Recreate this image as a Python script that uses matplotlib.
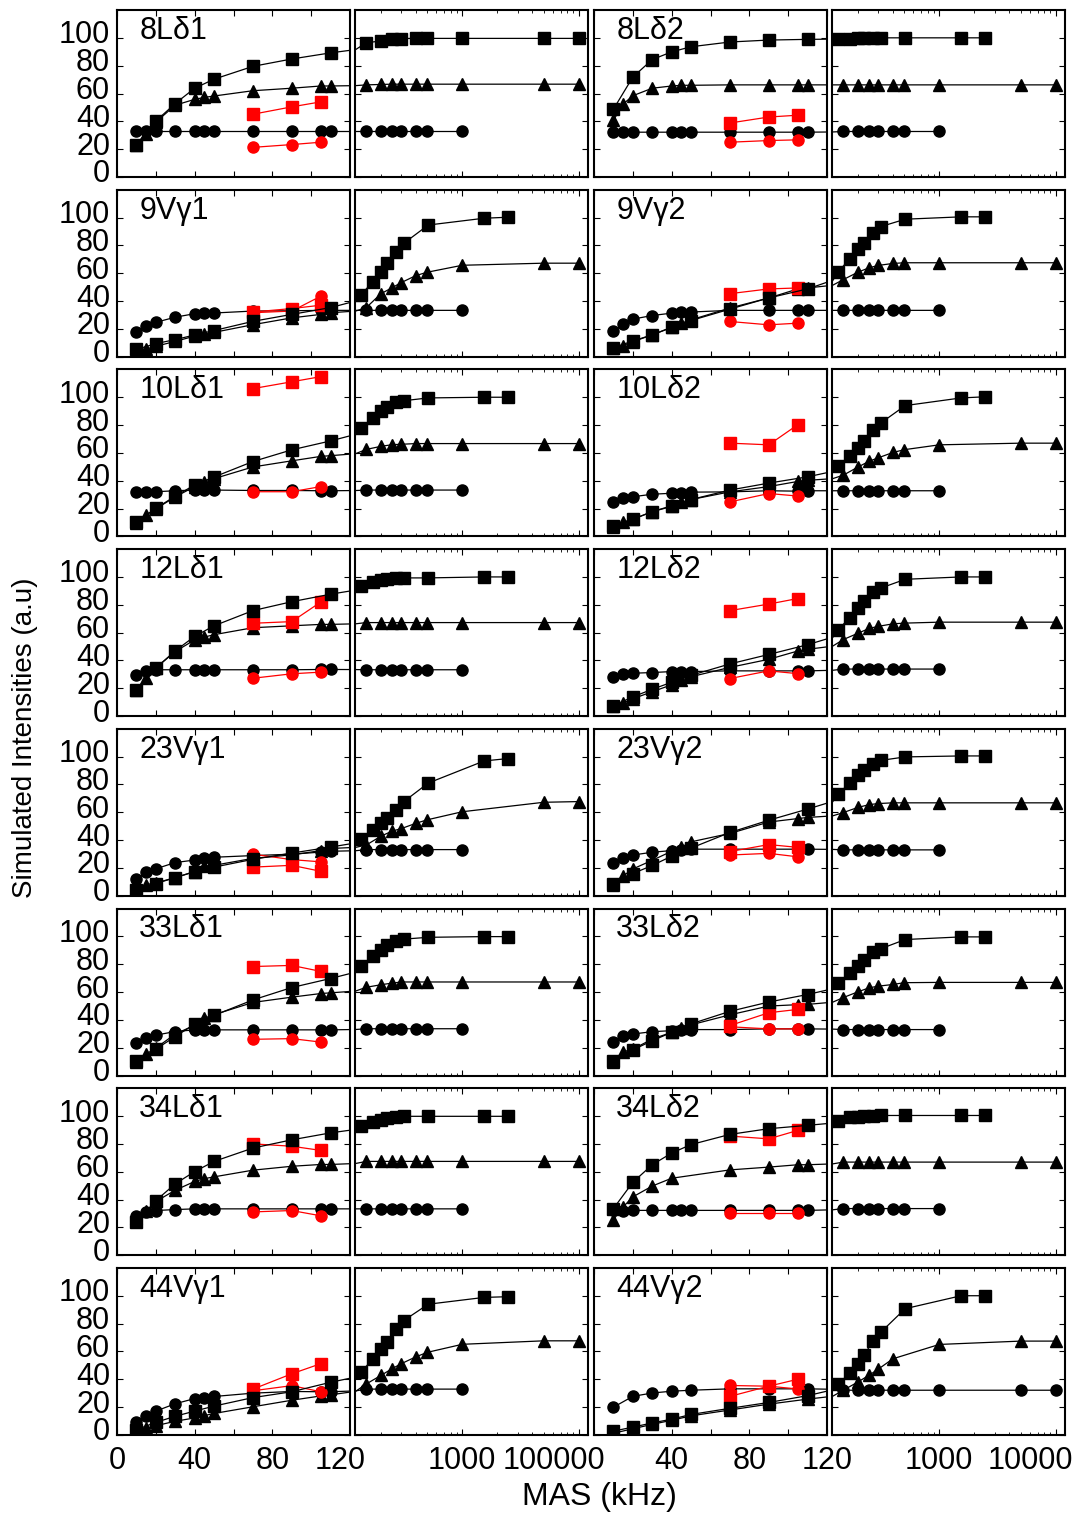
import matplotlib
matplotlib.use('Agg')
import numpy as np
import matplotlib.pyplot as plt
import matplotlib.transforms as mtransforms
from matplotlib.ticker import NullFormatter

plt.rcParams['font.family'] = ['Liberation Sans', 'DejaVu Sans']

# MAS rates (kHz)
x_lin = [10, 15, 20, 30, 40, 45, 50, 70, 90, 105, 110]
x_log = [150, 200, 250, 300, 400, 500, 1000, 5000, 10000]
x_sq_lin = [10, 20, 30, 40, 50, 70, 90, 110]
x_sq_log = [135, 170, 200, 225, 270, 315, 510, 1540, 2450]
x_red = [70, 90, 105]

names = ['8Lδ1', '8Lδ2', '9Vγ1', '9Vγ2', '10Lδ1', '10Lδ2', '12Lδ1', '12Lδ2',
         '23Vγ1', '23Vγ2', '33Lδ1', '33Lδ2', '34Lδ1', '34Lδ2', '44Vγ1', '44Vγ2']

N = None
# circles: x_lin (11) + x_log (9)
circles = {
    '8Lδ1': [32.7] * 11 + [32.7] * 7 + [N, N],
    '8Lδ2': [32.2] * 11 + [32.7] * 7 + [N, N],
    '9Vγ1': [17.5, 22.2, 24.7, 28.4, 30.9, 31.1, 31.4, 32.8, 33, 33.3, 33.3] + [33.3] * 7 + [N, N],
    '9Vγ2': [18.6, 23.4, 27, 29.6, 31.3, 31.8, 32.1, 33.3, 33.3, 33.3, 33.3] + [33.3] * 7 + [N, N],
    '10Lδ1': [32.1, 32.1, 32.1, 32.8, 33.3, 33.3, 33.3, 33, 33, 32.8, 32.8] + [33.3] * 7 + [N, N],
    '10Lδ2': [24.8, 27.3, 28.5, 30.3, 31, 31.5, 31.8, 32, 32.8, 32.5, 32.8] + [32.8] * 7 + [N, N],
    '12Lδ1': [29.6, 32.1, 33.3, 33.3, 33.3, 33.3, 33.3, 33.3, 33.3, 33.5, 33.5] + [33.3] * 7 + [N, N],
    '12Lδ2': [28, 30, 30.8, 31.3, 32, 32, 32, 32.5, 32.5, 32.5, 32.5] + [33.8] * 7 + [N, N],
    '23Vγ1': [11.8, 16.9, 19.4, 23.9, 25.7, 27.4, 27.7, 28.9, 29.9, 31.4, 32] + [33.2] * 7 + [N, N],
    '23Vγ2': [23.5, 27.5, 29.3, 31.3, 32.5, 33, 33.5, 33.5, 33.5, 33.5, 33.5] + [33] * 7 + [N, N],
    '33Lδ1': [23, 27.3, 29, 31.6, 32.8, 32.8, 32.8, 32.8, 32.8, 32.8, 32.8] + [33.6] * 7 + [N, N],
    '33Lδ2': [23.8, 28.1, 29.8, 31.5, 32.2, 32.7, 33, 33, 33.5, 33.5, 33.5] + [33] * 7 + [N, N],
    '34Lδ1': [28.5, 31.1, 32.1, 32.8, 33.3, 33.3, 33.3, 33.3, 33.3, 33.3, 33.3] + [33.3] * 7 + [N, N],
    '34Lδ2': [32.2, 31.8, 32.2, 32.2, 32.2, 32.2, 32.2, 32.2, 32.2, 32.2, 32.2] + [33.5] * 7 + [N, N],
    '44Vγ1': [9.3, 13.4, 17.1, 22.4, 26.1, 26.8, 27.6, 30, 31.2, 31, 31] + [32.9] * 7 + [N, N],
    '44Vγ2': [19.9, N, 27.7, 30.1, 31.4, N, 32.1, 33.1, 33.1, N, 33.1] + [32.1] * 9,
}

# triangles: x_lin (11) + x_log (9)
triangles = {
    '8Lδ1': [23, 31, 39.5, 51.6, 55.8, 57.2, 58.2, 62, 63.8, 65.4, 65.4] + [66.2, 66.5] + [66.7] * 7,
    '8Lδ2': [40.7, 52.4, 58.4, 63.8, 65.4, 65.9, 65.9, 66.2, 66.2, 66.2, 66.2] + [66.2] * 9,
    '9Vγ1': [3.5, 5.5, 7.5, 11, 14.8, 16, 17.5, 23, 27.9, 30.4, 31.6,
             35.3, 45.2, 49.6, 53.3, 58.3, 60.7, 65.7, 67.2, 67.2],
    '9Vγ2': [6, 8, 10.8, 15.7, 21.2, 24.1, 26.5, 35, 42.2, 48.7, 49.4,
             55.4, 60.7, 63.9, 65.6, 67, 67.5, 67.5, 67.5, 67.5],
    '10Lδ1': [9.9, 15.3, 19.8, 28.4, 35.8, 39, 41.5, 49.9, 54.3, 57.5, 58,
              62.5, 64.7, 65.9, 66.2, 66.7, 66.7, 66.7, 66.7, 66.7],
    '10Lδ2': [6.5, 10.3, 12.3, 17.8, 21.5, 24.5, 26.5, 32, 35.8, 39.5, 40.3,
              44, 49.8, 54, 56.5, 60.3, 62.3, 65.8, 67, 67],
    '12Lδ1': [18.5, 27.2, 34.6, 46.4, 54.8, 56.8, 58.5, 63.5, 64.9, 65.9, 65.9] + [67.2] * 9,
    '12Lδ2': [7, 9.3, 12.5, 17.5, 22.5, 25.8, 28.3, 35, 40.8, 46.8, 48,
              55, 59.5, 63, 64.5, 66.3, 66.8, 67.5, 67.5, 67.5],
    '23Vγ1': [3.5, 8, 9.3, 13, 17.4, 21.4, 21.9, 26.9, 29.4, 32.5, 34,
              36.5, 42.8, 46.5, 48.3, 52.1, 54.6, 60.4, 67.2, 67.7],
    '23Vγ2': [8, 14.3, 19.3, 25.5, 32, 35, 38.8, 44.8, 53, 55.5, 56.3,
              59.8, 63.5, 65.5, 66.3, 66.8, 66.8, 66.8, 66.8, 66.8],
    '33Lδ1': [9.6, 15.4, 19.7, 29.8, 36.1, 41.2, 43.7, 52.5, 56.3, 58.9, 59.4,
              63.4, 65.2, 66.4, 67.2, 67.2, 67.2, 67.2, 67.2, 67.2],
    '33Lδ2': [10, 17, 18.9, 26.2, 31, 33.9, 36.4, 43.6, 49.9, 50.9, 51.1,
              56, 60.1, 63, 64.2, 65.4, 66.7, 66.9, 66.9, 66.9],
    '34Lδ1': [26.5, 31.6, 38.6, 46.7, 53, 55, 56.3, 61.1, 63.9, 65.2, 65.2] + [67.4] * 9,
    '34Lδ2': [25.5, 34.7, 41.9, 49.7, 55.3, N, N, 61.3, 63.3, 65, 65] + [66.9] * 9,
    '44Vγ1': [1.7, 4.9, 6.6, 9.8, 12.2, 13.9, 15.4, 20.2, 24.9, 28, 28.8,
              36.6, 42.7, 47.6, 51.2, 56.1, 59.3, 65.1, 67.6, 67.6],
    '44Vγ2': [1.2, N, 4.4, 7.6, 10.5, N, 13.7, 17.9, 22.1, N, 25.7,
              32.1, 38, 42.9, 47.3, 54.7, N, 65, 67.4, 67.4],
}

# squares: x_sq_lin (8) + x_sq_log (9); 8Lδ1 uses x_log for its log part
squares = {
    '8Lδ1': [23.3, 40.2, 52.8, 63.8, 70.3, 79.5, 84.8, 89.2,
             96.5, 97.7, 99.4, 99.5, 99.6, 99.6, 99.6, 99.6, 99.6],
    '8Lδ2': [48.7, 71.8, 84.4, 89.9, 93.6, 97, 98.4, 98.9,
             99.2, 99.4, 99.6, 99.7, 99.8, 100, 100, 100, 100],
    '9Vγ1': [5.2, 9.4, 12.3, 15.6, 18.8, 25.4, 30.4, 35.3,
             44.4, 53.8, 60.7, 67.4, 75.5, 81.5, 94.6, 99.5, 100.2],
    '9Vγ2': [6.5, 11.3, 15.7, 21, 26, 34.2, 42.2, 48.7,
             60.7, 70.4, 77.6, 81.9, 89.2, 93.5, 98.8, 100.5, 100.5],
    '10Lδ1': [10.4, 20.2, 28.9, 37, 42.7, 53.8, 62.2, 68.6,
              77.8, 85.2, 90.1, 93.3, 96.3, 97.5, 99.5, 100, 100],
    '10Lδ2': [7.3, 12.3, 17.8, 22, 26.5, 33.3, 38.3, 42.8,
              50.3, 57.8, 63.3, 68.3, 76.5, 81.5, 94, 99.5, 100.3],
    '12Lδ1': [19, 34.6, 46.9, 57.3, 64.9, 75.8, 82.2, 87.6,
              93.3, 96.3, 98, 98.8, 99.3, 99.3, 99.3, 100, 100],
    '12Lδ2': [7.5, 13.8, 19.3, 24.3, 29.3, 37.5, 44.3, 51.3,
              61.8, 70.8, 77.5, 82.5, 89.3, 92, 98.3, 100, 100],
    '23Vγ1': [4.3, 8.8, 13.1, 17.4, 20.6, 26.2, 30.7, 35,
              40.8, 47.6, 52.6, 55.9, 61.6, 67.7, 81, 96.9, 98.6],
    '23Vγ2': [8.5, 16, 21.8, 28.5, 34.3, 45.5, 54.3, 62.3,
              73, 81, 86.8, 90.5, 95, 97.3, 99.8, 100.5, 100.5],
    '33Lδ1': [10.1, 18.9, 28, 36.9, 43.2, 54.3, 63.2, 69.7,
              78.6, 85.9, 90.4, 93.7, 96.7, 98, 99.3, 99.8, 99.8],
    '33Lδ2': [10.4, 18.4, 25, 31, 37.1, 46.1, 52.8, 58.2,
              66.2, 73.4, 78.8, 83.1, 88.5, 91.1, 97.7, 99.6, 99.6],
    '34Lδ1': [23.5, 39.2, 51.3, 60.1, 67.4, 77, 82.9, 87.9,
              92.7, 96, 97.3, 98.5, 99.3, 99.8, 99.8, 99.8, 99.8],
    '34Lδ2': [33.5, 52.4, 65, 73.4, 79.5, 86.8, 90.9, 93.3,
              96.5, 99.4, 99.6, 99.8, 100, 100.4, 100.4, 100.4, 100.4],
    '44Vγ1': [3.7, 9, 13.4, 17.1, 20.7, 26.8, 31, 37.8,
              45.1, 54.4, 61.5, 67.1, 76.1, 82.2, 93.9, 98.8, 99.3],
    '44Vγ2': [2.7, 5.6, 8.6, 11.3, 14.7, 19.1, 23.3, 28.2,
              36.3, 44.4, 51, 57.1, 67.4, 73.8, 90.7, 100, 100],
}

red_squares = {
    '8Lδ1': [45.1, 50.4, 54], '8Lδ2': [38.8, 43.1, 44.4],
    '9Vγ1': [32.1, 34.6, 37], '9Vγ2': [45.3, 48.7, 49.4],
    '10Lδ1': [106.2, 111.1, 114.8], '10Lδ2': [67, 65.8, 80.3],
    '12Lδ1': [66.7, 67.9, 82], '12Lδ2': [75.8, 80.5, 84.5],
    '23Vγ1': [20.6, 21.9, 17.6], '23Vγ2': [31.8, 36.8, 34.8],
    '33Lδ1': [78.3, 79.1, 74.8], '33Lδ2': [35.9, 45.1, 47.5],
    '34Lδ1': [80, 78.3, 75.3], '34Lδ2': [85.6, 83.6, 89.7],
    '44Vγ1': [32.9, 43.9, 51.2], '44Vγ2': [27.7, 35, 40],
}

red_circles = {
    '8Lδ1': [21.3, 23.3, 25], '8Lδ2': [25, 26.2, 26.7],
    '9Vγ1': [31.6, 32.8, 43.5], '9Vγ2': [25.3, 22.9, 24.1],
    '10Lδ1': [32.1, 32.1, 35.8], '10Lδ2': [24.8, 30.8, 29],
    '12Lδ1': [27.2, 30.4, 31.6], '12Lδ2': [27, 32.5, 30.5],
    '23Vγ1': [29.9, 26, 24.4], '23Vγ2': [29.3, 30.5, 28],
    '33Lδ1': [26, 26.5, 24], '33Lδ2': [35, 33.5, 33.5],
    '34Lδ1': [31.1, 32.1, 28.3], '34Lδ2': [30.3, 30.3, 30.3],
    '44Vγ1': [31.7, 35.4, 31], '44Vγ2': [35.5, 35, 33],
}

W, H = 1085, 1519
col_left = [117, 355, 594, 832]
col_w = 233
row_top0, row_pitch, row_h = 10, 179.7, 167
lin_lim = (0, 120)
log_lim = (120, 12000)


def draw(ax, xs, ys, lim, color, marker, ms, z):
    x = np.array(xs, dtype=float)
    y = np.array([np.nan if v is None else v for v in ys], dtype=float)
    ok = ~np.isnan(y)
    x, y = x[ok], y[ok]
    ax.plot(x, y, color=color, lw=0.9, zorder=z)
    inside = (x >= lim[0]) & (x <= lim[1])
    ax.plot(x[inside], y[inside], ls='none', marker=marker, ms=ms,
            color=color, zorder=z)


fig = plt.figure(figsize=(W / 100, H / 100), dpi=100)
up = mtransforms.ScaledTranslation(0, 0.06, fig.dpi_scale_trans)

for r in range(8):
    top = row_top0 + r * row_pitch
    for c in range(4):
        ax = fig.add_axes([col_left[c] / W, 1 - (top + row_h) / H, col_w / W, row_h / H])
        name = names[2 * r + c // 2]
        is_log = c % 2 == 1
        lim = log_lim if is_log else lin_lim

        if is_log:
            ax.set_xscale('log')
            ax.set_xticks([1000, 10000])
            ax.xaxis.set_minor_formatter(NullFormatter())
        else:
            ax.set_xticks(range(0, 121, 20))
        ax.set_xlim(*lim)
        ax.set_ylim(0, 120)
        ax.set_yticks(range(0, 101, 20))

        draw(ax, x_lin + x_log, circles[name], lim, 'black', 'o', 8, 2)
        draw(ax, x_lin + x_log, triangles[name], lim, 'black', '^', 8.5, 3)
        draw(ax, x_red, red_circles[name], lim, 'red', 'o', 8, 4)
        draw(ax, x_red, red_squares[name], lim, 'red', 's', 8, 5)
        sq_x = x_sq_lin + (x_log if name == '8Lδ1' else x_sq_log)
        draw(ax, sq_x, squares[name], lim, 'black', 's', 8, 6)

        if not is_log:
            ax.text(0.095, 0.965, name, transform=ax.transAxes,
                    ha='left', va='top', fontsize=22)

        ax.tick_params(which='major', direction='in', top=True, right=True,
                       length=4, width=0.8, labelsize=22, pad=5)
        ax.tick_params(which='minor', direction='in', top=True, right=True,
                       length=2, width=0.6)
        ax.tick_params(axis='x', pad=8)
        for s in ax.spines.values():
            s.set_linewidth(1.5)

        if c == 0:
            for lab in ax.get_yticklabels():
                lab.set_transform(lab.get_transform() + up)
        else:
            ax.tick_params(labelleft=False)

        if r == 7:
            if c == 0:
                ax.set_xticklabels(['0', '', '40', '', '80', '', '120'])
            elif c == 2:
                ax.set_xticklabels(['', '', '40', '', '80', '', '120'])
            elif c == 1:
                ax.set_xticklabels(['1000', '100000'])
            else:
                ax.set_xticklabels(['1000', '10000'])
            if is_log:
                shift = mtransforms.ScaledTranslation(-0.25, 0, fig.dpi_scale_trans)
                lab = ax.get_xticklabels()[-1]
                lab.set_transform(lab.get_transform() + shift)
            elif c == 0:
                shift = mtransforms.ScaledTranslation(-0.1, 0, fig.dpi_scale_trans)
                lab = ax.get_xticklabels()[-1]
                lab.set_transform(lab.get_transform() + shift)
        else:
            ax.tick_params(labelbottom=False)

fig.text(25 / W, 1 - 738 / H, 'Simulated Intensities (a.u)', rotation=90,
         ha='center', va='center', fontsize=20)
fig.text(599 / W, 1 - 1497 / H, 'MAS (kHz)', ha='center', va='center', fontsize=23)

fig.savefig('out.png', dpi=100)
